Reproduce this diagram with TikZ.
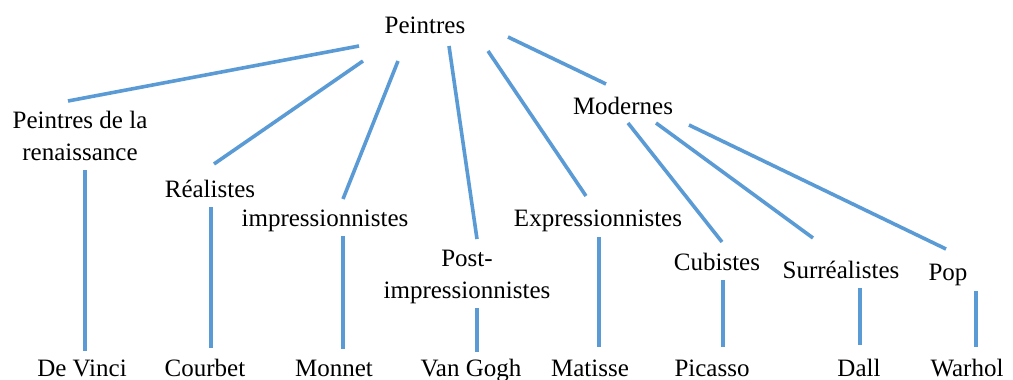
\documentclass[tikz,border=0pt]{standalone}
\usepackage{fontspec}
\setmainfont{Liberation Serif}
\usetikzlibrary{calc}
\definecolor{bleu}{RGB}{91,155,213}

\begin{document}
\begin{tikzpicture}[x=1pt,y=-1pt,
        nom/.style = {
            anchor=base,
            inner sep=0pt,
            align=center,
            font=\fontsize{25}{32}\selectfont
        },
        branche/.style = {draw=bleu, line width=3.6pt}]

        \useasboundingbox (0,0) rectangle (1013,380);

        % categories
        \node[nom] (peintres) at (425,34) {Peintres};
        \node[nom] (renais) at (80,160) {Peintres de la\\renaissance};
        \node[nom] (realistes) at (210,197) {Réalistes};
        \node[nom] (impress) at (325,226) {impressionnistes};
        \node[nom] (post) at (467,298) {Post-\\impressionnistes};
        \node[nom] (express) at (598,226) {Expressionnistes};
        \node[nom] (modernes) at (623,114) {Modernes};
        \node[nom] (cubistes) at (717,270) {Cubistes};
        \node[nom] (surreal) at (841,278) {Surréalistes};
        \node[nom] (pop) at (948,280) {Pop};

        % peintres
        \node[nom] (devinci) at (82,376) {De Vinci};
        \node[nom] (courbet) at (205,376) {Courbet};
        \node[nom] (monnet) at (334,376) {Monnet};
        \node[nom] (vangogh) at (471,376) {Van Gogh};
        \node[nom] (matisse) at (590,376) {Matisse};
        \node[nom] (picasso) at (712,376) {Picasso};
        \node[nom] (dall) at (859,376) {Dall};
        \node[nom] (warhol) at (967,376) {Warhol};

        \draw[branche] ($(peintres.base)+(-66,12)$) -- ($(renais.base)+(-12,-59)$);
        \draw[branche] ($(peintres.base)+(-62,27)$) -- ($(realistes.base)+(4,-33)$);
        \draw[branche] ($(peintres.base)+(-27,27)$) -- ($(impress.base)+(18,-27)$);
        \draw[branche] ($(peintres.base)+(24,12)$) -- ($(post.base)+(10,-59)$);
        \draw[branche] ($(peintres.base)+(63,17)$) -- ($(express.base)+(-12,-30)$);
        \draw[branche] ($(peintres.base)+(83,3)$) -- ($(modernes.base)+(-17,-30)$);

        \draw[branche] ($(modernes.base)+(5,9)$) -- ($(cubistes.base)+(5,-28)$);
        \draw[branche] ($(modernes.base)+(33,9)$) -- ($(surreal.base)+(-28,-40)$);
        \draw[branche] ($(modernes.base)+(66,11)$) -- ($(pop.base)+(-2,-31)$);

        \draw[branche] ($(renais.base)+(5,10)$) -- ($(devinci.base)+(3,-25)$);
        \draw[branche] ($(realistes.base)+(1,10)$) -- ($(courbet.base)+(6,-28)$);
        \draw[branche] ($(impress.base)+(18,10)$) -- ($(monnet.base)+(9,-27)$);
        \draw[branche] ($(post.base)+(10,10)$) -- ($(vangogh.base)+(6,-24)$);
        \draw[branche] ($(express.base)+(1,11)$) -- ($(matisse.base)+(9,-29)$);
        \draw[branche] ($(cubistes.base)+(6,10)$) -- ($(picasso.base)+(11,-29)$);
        \draw[branche] ($(surreal.base)+(19,10)$) -- ($(dall.base)+(1,-31)$);
        \draw[branche] ($(pop.base)+(28,11)$) -- ($(warhol.base)+(9,-29)$);
    \end{tikzpicture}
\end{document}
